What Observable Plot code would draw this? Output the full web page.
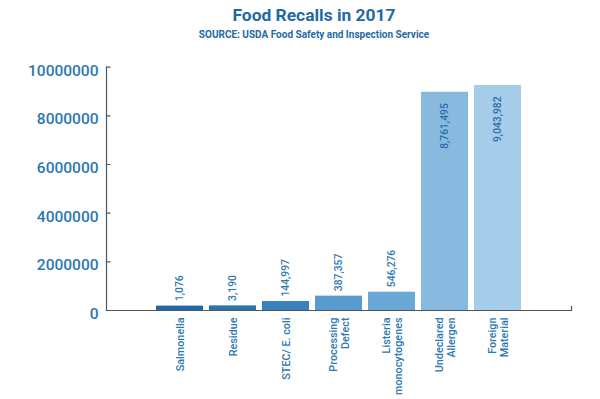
<!DOCTYPE html>
<html>
<head>
<meta charset="utf-8">
<script src="https://cdn.jsdelivr.net/npm/d3@7"></script>
<script src="https://cdn.jsdelivr.net/npm/@observablehq/plot@0.6"></script>
<style>
  body { margin: 0; background: #fff; font-family: Roboto, "DejaVu Sans", sans-serif; }
  #wrap { width: 600px; height: 399px; position: relative; overflow: hidden; }
  #title { position: absolute; top: 4px; left: 0; width: 600px; padding-left: 28px; box-sizing: border-box; text-align: center; font-weight: 700; font-size: 17.4px; line-height: 22px; color: #1f6aa5; }
  #subtitle { position: absolute; top: 28px; left: 0; width: 600px; padding-left: 28px; box-sizing: border-box; text-align: center; font-weight: 700; font-size: 10px; line-height: 14px; color: #1f6aa5; }
  #chart { position: absolute; top: 50px; left: 0; }
</style>
</head>
<body>
<div id="wrap">
  <div id="title">Food Recalls in 2017</div>
  <div id="subtitle">SOURCE: USDA Food Safety and Inspection Service</div>
  <div id="chart"></div>
</div>
<script>
// Categories (line breaks as in the picture)
const categories = ["Salmonella", "Residue", "STEC/ E. coli", "Processing\nDefect", "Listeria\nmonocytogenes", "Undeclared\nAllergen", "Foreign\nMaterial"];
// Values printed on the bars (pounds recalled)
const labelValues = [1076, 3190, 144997, 387357, 546276, 8761495, 9043982];
// Bar heights as drawn in the picture (read against the y axis)
const drawnHeights = [180000, 190000, 370000, 590000, 752000, 8970000, 9250000];
// Bar colours
const barColors = ["#1f68a3", "#2b74ae", "#3a80b9", "#5a9bcf", "#6aa9d7", "#88bae0", "#a5cce8"];
// Y tick values
const yTicks = [0, 2000000, 4000000, 6000000, 8000000, 10000000];

const data = categories.map((c, i) => ({cat: c, value: labelValues[i], h: drawnHeights[i], color: barColors[i], inside: drawnHeights[i] > 5000000}));

const fmt = d3.format(",");
const textBlue = "#2c78b0";
const axisGray = "#555";
const spike = {draw(ctx, l) { ctx.moveTo(0, 0); ctx.lineTo(0, -l); }};

const chart = Plot.plot({
  width: 600,
  height: 349,
  marginTop: 16.7,
  marginBottom: 89,
  marginLeft: 106,
  marginRight: 29,
  style: {fontFamily: "Roboto, sans-serif", background: "transparent"},
  x: {domain: categories, range: [148.6, 528.3], padding: 0.12, axis: null},
  y: {domain: [0, 10000000], axis: null},
  marks: [
    Plot.barY(data, {x: "cat", y: "h", fill: "color"}),
    Plot.ruleY([0], {stroke: axisGray, strokeWidth: 1.2}),
    Plot.frame({anchor: "left", stroke: axisGray, strokeWidth: 1.2}),
    Plot.vector(yTicks, {y: d => d, frameAnchor: "left", rotate: 90, length: 3.5, anchor: "start", shape: spike, stroke: axisGray, strokeWidth: 1.2}),
    Plot.vector([0], {frameAnchor: "bottom-right", rotate: 0, length: 4, anchor: "start", shape: spike, stroke: axisGray, strokeWidth: 1.2}),
    Plot.text(yTicks, {y: d => d, frameAnchor: "left", text: d => String(d), textAnchor: "end", dx: -8, dy: 3.5, fontSize: 15.5, fontWeight: 500, fill: textBlue}),
    Plot.text(data.filter(d => !d.inside), {x: "cat", y: "h", text: d => fmt(d.value), rotate: -90, textAnchor: "start", dy: -5, fontSize: 10.3, fontWeight: 500, fill: textBlue}),
    Plot.text(data.filter(d => d.inside), {x: "cat", y: "h", text: d => fmt(d.value), rotate: -90, textAnchor: "end", dy: 11, fontSize: 10.3, fontWeight: 500, fill: "#2a6ca6"}),
    Plot.text(data, {x: "cat", text: "cat", frameAnchor: "bottom", rotate: -90, textAnchor: "end", lineAnchor: "middle", lineHeight: 1.1, dy: 7, fontSize: 10.8, fontWeight: 500, fill: textBlue})
  ]
});
document.getElementById("chart").appendChild(chart);
</script>
</body>
</html>
